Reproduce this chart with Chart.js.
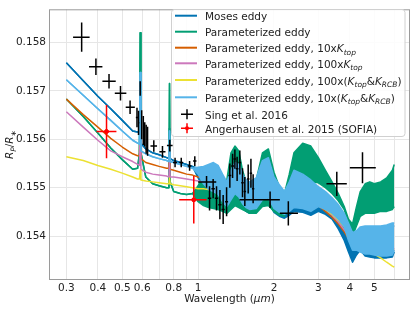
<!DOCTYPE html>
<html lang="en">
<head>
<meta charset="UTF-8">
<title>Transmission spectrum models vs data</title>
<style>
  body { margin: 0; background: #fff; }
  #wrap { width: 415px; height: 312px; position: relative; }
</style>
</head>
<body>
<div id="wrap"><canvas id="spectrum"></canvas></div>
<script src="https://cdn.jsdelivr.net/npm/chart.js"></script>
<script>
// wavelength grid (micron) shared by the model spectra
const wave = [0.30, 0.35, 0.40, 0.45, 0.50, 0.55, 0.575, 0.585, 0.589, 0.593,
  0.62, 0.66, 0.70, 0.75, 0.766, 0.770, 0.774, 0.80, 0.85, 0.90, 0.95,
  1.00, 1.05, 1.10, 1.15, 1.20, 1.25, 1.30, 1.35, 1.40, 1.45, 1.50, 1.55, 1.60, 1.70,
  1.80, 1.90, 2.00, 2.10, 2.20, 2.30, 2.40, 2.60, 2.80, 3.00, 3.20, 3.40, 3.60, 3.80,
  3.95, 4.10, 4.25, 4.40, 4.60, 4.80, 5.00, 5.30, 5.60, 5.90, 6.00];

// Moses eddy (upper / lower envelope of the noisy model)
const mosesHi = [0.15758, 0.15721, 0.15689, 0.15663, 0.15639, 0.15617, 0.15615, 0.15615, 0.15713, 0.15592,
  0.15580, 0.15572, 0.15568, 0.15562, 0.15560, 0.15623, 0.15560, 0.15556, 0.15552, 0.15548, 0.15544,
  0.15540, 0.15540, 0.15544, 0.15548, 0.15542, 0.15524, 0.15508, 0.15532, 0.15548, 0.15544, 0.15524, 0.15512, 0.15508, 0.15516,
  0.15552, 0.15558, 0.15518, 0.15502, 0.15488, 0.15508, 0.15532, 0.15524, 0.15512, 0.15498, 0.15488, 0.15475, 0.15459, 0.15439,
  0.15415, 0.15391, 0.15399, 0.15411, 0.15415, 0.15415, 0.15415, 0.15415, 0.15417, 0.15421, 0.15421];
const mosesLo = [0.15758, 0.15721, 0.15689, 0.15663, 0.15639, 0.15617, 0.15615, 0.15615, 0.15713, 0.15592,
  0.15580, 0.15572, 0.15568, 0.15562, 0.15560, 0.15623, 0.15560, 0.15556, 0.15552, 0.15548, 0.15544,
  0.15520, 0.15500, 0.15488, 0.15484, 0.15477, 0.15463, 0.15453, 0.15467, 0.15479, 0.15473, 0.15459, 0.15451, 0.15447, 0.15449,
  0.15467, 0.15471, 0.15449, 0.15441, 0.15437, 0.15443, 0.15451, 0.15449, 0.15443, 0.15451, 0.15445, 0.15435, 0.15415, 0.15391,
  0.15367, 0.15346, 0.15361, 0.15371, 0.15359, 0.15357, 0.15355, 0.15355, 0.15355, 0.15357, 0.15367];

// Parameterized eddy
const paramHi = [0.15683, 0.15647, 0.15613, 0.15582, 0.15558, 0.15538, 0.15540, 0.15572, 0.15820, 0.15572,
  0.15522, 0.15508, 0.15504, 0.15500, 0.15500, 0.15715, 0.15512, 0.15492, 0.15488, 0.15486, 0.15488,
  0.15504, 0.15528, 0.15546, 0.15546, 0.15532, 0.15508, 0.15516, 0.15572, 0.15586, 0.15576, 0.15536, 0.15512, 0.15508, 0.15516,
  0.15572, 0.15580, 0.15532, 0.15502, 0.15488, 0.15528, 0.15572, 0.15592, 0.15586, 0.15562, 0.15536, 0.15512, 0.15488, 0.15461,
  0.15435, 0.15425, 0.15461, 0.15492, 0.15508, 0.15512, 0.15508, 0.15512, 0.15520, 0.15536, 0.15548];
const paramLo = [0.15683, 0.15647, 0.15613, 0.15582, 0.15558, 0.15538, 0.15540, 0.15572, 0.15820, 0.15572,
  0.15522, 0.15508, 0.15504, 0.15500, 0.15500, 0.15715, 0.15512, 0.15492, 0.15488, 0.15486, 0.15488,
  0.15471, 0.15463, 0.15459, 0.15457, 0.15455, 0.15451, 0.15447, 0.15455, 0.15463, 0.15459, 0.15455, 0.15451, 0.15447, 0.15447,
  0.15461, 0.15463, 0.15451, 0.15443, 0.15441, 0.15492, 0.15528, 0.15520, 0.15512, 0.15510, 0.15500, 0.15488, 0.15473, 0.15455,
  0.15427, 0.15401, 0.15421, 0.15441, 0.15447, 0.15447, 0.15447, 0.15451, 0.15451, 0.15455, 0.15461];

// Parameterized eddy, 10x K_top
const ktop10 = [0.15683, 0.15651, 0.15625, 0.15602, 0.15584, 0.15570, 0.15566, 0.15566, 0.15653, 0.15560,
  0.15552, 0.15548, 0.15544, 0.15540, 0.15540, 0.15592, 0.15538, 0.15536, 0.15532, 0.15528, 0.15526,
  0.15522, 0.15520, 0.15520, 0.15520, 0.15516, 0.15508, 0.15504, 0.15512, 0.15520, 0.15516, 0.15506, 0.15500, 0.15496, 0.15496,
  0.15504, 0.15504, 0.15492, 0.15484, 0.15477, 0.15479, 0.15484, 0.15479, 0.15471, 0.15463, 0.15451, 0.15439, 0.15425, 0.15409,
  0.15395, 0.15385, 0.15391, 0.15383, 0.15375, 0.15371, 0.15371, 0.15369, 0.15371, 0.15371, 0.15371];

// Parameterized eddy, 100x K_top
const ktop100 = [0.15657, 0.15625, 0.15598, 0.15576, 0.15564, 0.15554, 0.15548, 0.15546, 0.15633, 0.15538,
  0.15532, 0.15528, 0.15526, 0.15524, 0.15522, 0.15562, 0.15522, 0.15522, 0.15520, 0.15518, 0.15516,
  0.15514, 0.15512, 0.15512, 0.15512, 0.15510, 0.15504, 0.15500, 0.15506, 0.15512, 0.15510, 0.15502, 0.15496, 0.15494, 0.15494,
  0.15500, 0.15500, 0.15490, 0.15481, 0.15475, 0.15477, 0.15481, 0.15477, 0.15471, 0.15465, 0.15455, 0.15443, 0.15429, 0.15413,
  0.15401, 0.15391, 0.15395, 0.15387, 0.15379, 0.15375, 0.15375, 0.15373, 0.15375, 0.15373, 0.15375];

// Parameterized eddy, 100x (K_top & K_RCB)
const both100 = [0.15564, 0.15556, 0.15546, 0.15538, 0.15530, 0.15522, 0.15518, 0.15518, 0.15536, 0.15516,
  0.15514, 0.15512, 0.15510, 0.15508, 0.15508, 0.15520, 0.15508, 0.15506, 0.15504, 0.15502, 0.15500,
  0.15498, 0.15498, 0.15496, 0.15496, 0.15494, 0.15492, 0.15490, 0.15492, 0.15494, 0.15492, 0.15490, 0.15488, 0.15486, 0.15486,
  0.15488, 0.15488, 0.15484, 0.15479, 0.15475, 0.15475, 0.15477, 0.15475, 0.15471, 0.15465, 0.15455, 0.15445, 0.15433, 0.15419,
  0.15407, 0.15399, 0.15395, 0.15387, 0.15379, 0.15371, 0.15363, 0.15355, 0.15346, 0.15338, 0.15336];

// Parameterized eddy, 10x (K_top & K_RCB)
const both10Hi = [0.15723, 0.15691, 0.15663, 0.15639, 0.15617, 0.15598, 0.15592, 0.15590, 0.15738, 0.15576,
  0.15570, 0.15564, 0.15560, 0.15556, 0.15554, 0.15617, 0.15554, 0.15552, 0.15548, 0.15544, 0.15540,
  0.15542, 0.15544, 0.15548, 0.15552, 0.15546, 0.15528, 0.15512, 0.15536, 0.15552, 0.15548, 0.15528, 0.15516, 0.15512, 0.15520,
  0.15556, 0.15562, 0.15522, 0.15506, 0.15492, 0.15512, 0.15536, 0.15528, 0.15516, 0.15502, 0.15492, 0.15479, 0.15465, 0.15447,
  0.15427, 0.15407, 0.15411, 0.15419, 0.15421, 0.15421, 0.15421, 0.15421, 0.15423, 0.15427, 0.15427];
const both10Lo = [0.15723, 0.15691, 0.15663, 0.15639, 0.15617, 0.15598, 0.15592, 0.15590, 0.15738, 0.15576,
  0.15570, 0.15564, 0.15560, 0.15556, 0.15554, 0.15617, 0.15554, 0.15552, 0.15548, 0.15544, 0.15540,
  0.15528, 0.15508, 0.15496, 0.15492, 0.15486, 0.15471, 0.15461, 0.15475, 0.15488, 0.15481, 0.15467, 0.15459, 0.15455, 0.15457,
  0.15475, 0.15479, 0.15457, 0.15449, 0.15445, 0.15451, 0.15459, 0.15457, 0.15451, 0.15461, 0.15455, 0.15447, 0.15435, 0.15419,
  0.15391, 0.15371, 0.15371, 0.15367, 0.15363, 0.15363, 0.15361, 0.15359, 0.15359, 0.15361, 0.15371];

// Sing et al. 2016: centre, bin edges, Rp/R*, 1-sigma
const singWave = [0.345, 0.393, 0.443, 0.492, 0.537, 0.572, 0.580, 0.589, 0.597, 0.606, 0.614, 0.622, 0.630,
  0.667, 0.722, 0.772, 0.810, 0.857, 0.925, 0.970, 1.08,
  1.110, 1.147, 1.183, 1.220, 1.257, 1.297, 1.336, 1.370, 1.399, 1.428, 1.464, 1.500, 1.532, 1.580, 1.620, 1.653,
  1.93, 2.28, 3.55, 4.49];
const singLo = [0.319, 0.369, 0.417, 0.467, 0.516, 0.566, 0.576, 0.586, 0.593, 0.602, 0.610, 0.618, 0.626,
  0.647, 0.702, 0.752, 0.795, 0.842, 0.910, 0.955, 1.00,
  1.092, 1.129, 1.165, 1.202, 1.239, 1.279, 1.318, 1.352, 1.381, 1.410, 1.446, 1.482, 1.514, 1.562, 1.602, 1.635,
  1.46, 2.11, 3.23, 4.00];
const singHi = [0.371, 0.417, 0.471, 0.519, 0.561, 0.578, 0.585, 0.592, 0.601, 0.610, 0.618, 0.626, 0.634,
  0.687, 0.742, 0.792, 0.825, 0.872, 0.940, 0.985, 1.18,
  1.128, 1.165, 1.201, 1.238, 1.275, 1.315, 1.354, 1.388, 1.417, 1.446, 1.482, 1.518, 1.550, 1.598, 1.638, 1.671,
  2.11, 2.49, 3.89, 5.07];
const singDepth = [0.15811, 0.15750, 0.15720, 0.15695, 0.15666, 0.15645, 0.15634, 0.15705, 0.15630, 0.15618, 0.15610, 0.15600, 0.15596,
  0.15586, 0.15574, 0.15587, 0.15552, 0.15552, 0.15545, 0.15555, 0.15512,
  0.15478, 0.15498, 0.15478, 0.15465, 0.15455, 0.15471, 0.15525, 0.15545, 0.15559, 0.15539, 0.15552, 0.15510, 0.15492, 0.15518, 0.15530, 0.15498,
  0.15475, 0.15447, 0.15508, 0.15541];
const singErr = [0.00030, 0.00017, 0.00015, 0.00015, 0.00014, 0.00020, 0.00025, 0.00015, 0.00030, 0.00030, 0.00025, 0.00030, 0.00030,
  0.00012, 0.00012, 0.00012, 0.00010, 0.00010, 0.00010, 0.00010, 0.00012,
  0.00025, 0.00020, 0.00025, 0.00030, 0.00030, 0.00030, 0.00025, 0.00025, 0.00020, 0.00025, 0.00025, 0.00030, 0.00030, 0.00030, 0.00030, 0.00030,
  0.00017, 0.00025, 0.00025, 0.00032];

// Angerhausen et al. 2015 (SOFIA)
const sofiaWave = [0.433, 0.961];
const sofiaLo = [0.395, 0.841];
const sofiaHi = [0.474, 1.08];
const sofiaDepth = [0.15616, 0.15475];
const sofiaErr = [0.00055, 0.00049];

const xTicks = [0.3, 0.4, 0.5, 0.6, 0.7, 0.8, 0.9, 1, 2, 3, 4, 5, 6];
const xTickLabels = ['0.3', '0.4', '0.5', '0.6', '', '0.8', '', '1', '2', '3', '4', '5', ''];
const yTicks = [0.154, 0.155, 0.156, 0.157, 0.158];

const FONT = "'DejaVu Sans', sans-serif";
Chart.defaults.font.family = FONT;
Chart.defaults.font.size = 10.5;
Chart.defaults.color = '#222';

const pts = (ys) => wave.map((w, i) => ({x: w, y: ys[i]}));

function line(label, color, ys, order) {
    return {label, data: pts(ys), borderColor: color, borderWidth: 1.5, pointRadius: 0,
        borderJoinStyle: 'round', fill: false, order};
}

function band(label, color, hi, lo, order) {
    const top = line(label, color, hi, order);
    const bottom = line(label + ' lower', color, lo, order);
    bottom.fill = '-1';
    bottom.backgroundColor = color;
    return [top, bottom];
}

const datasets = [
    ...band('Moses eddy', '#0173b2', mosesHi, mosesLo, 7),
    ...band('Parameterized eddy', '#029e73', paramHi, paramLo, 6),
    line('Parameterized eddy, 10xKtop', '#d55e00', ktop10, 5),
    line('Parameterized eddy, 100xKtop', '#cc78bc', ktop100, 4),
    line('Parameterized eddy, 100x(Ktop&KRCB)', '#ece133', both100, 3),
    ...band('Parameterized eddy, 10x(Ktop&KRCB)', '#56b4e9', both10Hi, both10Lo, 2),
    {label: 'Sing et al. 2016', data: singWave.map((w, i) => ({x: w, y: singDepth[i]})),
        showLine: false, pointRadius: 0, borderColor: '#000', order: 1},
    {label: 'Angerhausen et al. 2015 (SOFIA)', data: sofiaWave.map((w, i) => ({x: w, y: sofiaDepth[i]})),
        showLine: false, pointRadius: 2, pointBackgroundColor: '#ff0000', borderColor: '#ff0000', order: 0}
];

// frame + error bars, drawn through the chart scales
const errorBars = {
    id: 'errorBars',
    afterDatasetsDraw(chart) {
        const {ctx, chartArea: a, scales: {x, y}} = chart;
        ctx.save();
        ctx.strokeStyle = '#9a9a9a';
        ctx.lineWidth = 1;
        ctx.strokeRect(a.left + 0.5, a.top + 0.5, a.right - a.left - 1, a.bottom - a.top - 1);
        const groups = [
            [singWave, singLo, singHi, singDepth, singErr, '#000'],
            [sofiaWave, sofiaLo, sofiaHi, sofiaDepth, sofiaErr, '#ff0000']
        ];
        ctx.lineWidth = 1.5;
        groups.forEach(([w, lo, hi, d, e, col]) => {
            ctx.strokeStyle = col;
            ctx.fillStyle = col;
            w.forEach((c, i) => {
                const px = x.getPixelForValue(c), py = y.getPixelForValue(d[i]);
                ctx.beginPath();
                ctx.moveTo(x.getPixelForValue(lo[i]), py);
                ctx.lineTo(x.getPixelForValue(hi[i]), py);
                ctx.moveTo(px, y.getPixelForValue(d[i] - e[i]));
                ctx.lineTo(px, y.getPixelForValue(d[i] + e[i]));
                ctx.stroke();
                if (col !== '#000') {
                    ctx.beginPath();
                    ctx.arc(px, py, 2, 0, Math.PI * 2);
                    ctx.fill();
                }
            });
        });
        ctx.restore();
    }
};

// draws a run of [text, style] pieces; style n = normal, i = italic, s = italic subscript
function drawRich(ctx, parts, x, base) {
    parts.forEach(([t, s]) => {
        if (s === 's') {
            ctx.font = 'italic 7.5px ' + FONT;
            ctx.fillText(t, x, base + 2.5);
        } else {
            ctx.font = (s === 'i' ? 'italic ' : '') + '10.5px ' + FONT;
            ctx.fillText(t, x, base);
        }
        x += ctx.measureText(t).width;
    });
}

function richWidth(ctx, parts) {
    let w = 0;
    parts.forEach(([t, s]) => {
        ctx.font = s === 's' ? 'italic 7.5px ' + FONT : (s === 'i' ? 'italic ' : '') + '10.5px ' + FONT;
        w += ctx.measureText(t).width;
    });
    return w;
}

const legendRows = [
    {color: '#0173b2', y: 15.7, parts: [['Moses eddy', 'n']]},
    {color: '#029e73', y: 31.7, parts: [['Parameterized eddy', 'n']]},
    {color: '#d55e00', y: 47.7, parts: [['Parameterized eddy, 10x', 'n'], ['K', 'i'], ['top', 's']]},
    {color: '#cc78bc', y: 63.3, parts: [['Parameterized eddy, 100x', 'n'], ['K', 'i'], ['top', 's']]},
    {color: '#ece133', y: 80, parts: [['Parameterized eddy, 100x(', 'n'], ['K', 'i'], ['top', 's'], ['&', 'n'], ['K', 'i'], ['RCB', 's'], [')', 'n']]},
    {color: '#56b4e9', y: 97.3, parts: [['Parameterized eddy, 10x(', 'n'], ['K', 'i'], ['top', 's'], ['&', 'n'], ['K', 'i'], ['RCB', 's'], [')', 'n']]},
    {err: '#000', y: 114.3, parts: [['Sing et al. 2016', 'n']]},
    {err: '#ff0000', y: 128.3, parts: [['Angerhausen et al. 2015 (SOFIA)', 'n']]}
];

const decorations = {
    id: 'decorations',
    afterDraw(chart) {
        const {ctx, chartArea: a} = chart;
        ctx.save();
        ctx.fillStyle = '#222';
        ctx.textBaseline = 'alphabetic';
        // axis titles
        const xt = [['Wavelength (', 'n'], ['μm', 'i'], [')', 'n']];
        drawRich(ctx, xt, (a.left + a.right) / 2 - richWidth(ctx, xt) / 2, 301.5);
        const yt = [['R', 'i'], ['P', 's'], ['/', 'n'], ['R', 'i'], ['∗', 's']];
        ctx.translate(9.5, (a.top + a.bottom) / 2);
        ctx.rotate(-Math.PI / 2);
        drawRich(ctx, yt, -richWidth(ctx, yt) / 2, 3.8);
        ctx.setTransform(1, 0, 0, 1, 0, 0);
        // legend box
        ctx.beginPath();
        ctx.roundRect(171.5, 9.5, 233.5, 127, 3);
        ctx.fillStyle = 'rgba(255,255,255,0.85)';
        ctx.fill();
        ctx.strokeStyle = '#d0d0d0';
        ctx.lineWidth = 1;
        ctx.stroke();
        legendRows.forEach(r => {
            if (r.color) {
                ctx.strokeStyle = r.color;
                ctx.lineWidth = 2;
                ctx.beginPath();
                ctx.moveTo(175, r.y);
                ctx.lineTo(197, r.y);
                ctx.stroke();
            } else {
                ctx.strokeStyle = r.err;
                ctx.fillStyle = r.err;
                ctx.lineWidth = 1.5;
                ctx.beginPath();
                ctx.moveTo(181, r.y);
                ctx.lineTo(193, r.y);
                ctx.moveTo(187, r.y - 5);
                ctx.lineTo(187, r.y + 5);
                ctx.stroke();
                if (r.err !== '#000') {
                    ctx.beginPath();
                    ctx.arc(187, r.y, 2, 0, Math.PI * 2);
                    ctx.fill();
                }
            }
            ctx.fillStyle = '#222';
            drawRich(ctx, r.parts, 205, r.y + 4.5);
        });
        ctx.restore();
    }
};

new Chart(document.getElementById('spectrum'), {
    type: 'line',
    data: {datasets},
    plugins: [errorBars, decorations],
    options: {
        responsive: true,
        maintainAspectRatio: false,
        animation: false,
        layout: {padding: {top: 3, right: 5, left: 0, bottom: 0}},
        plugins: {legend: {display: false}, tooltip: {enabled: false}},
        scales: {
            x: {
                type: 'logarithmic',
                min: 0.256,
                max: 6.93,
                afterBuildTicks: s => { s.ticks = xTicks.map(v => ({value: v})); },
                afterFit: s => { s.height = 32; },
                ticks: {
                    autoSkip: false, maxRotation: 0, padding: 2,
                    callback: (v) => xTickLabels[xTicks.indexOf(v)] ?? ''
                },
                grid: {color: '#e6e6e6', drawTicks: false},
                border: {display: false}
            },
            y: {
                type: 'linear',
                min: 0.153093,
                max: 0.158685,
                afterBuildTicks: s => { s.ticks = yTicks.map(v => ({value: v})); },
                afterFit: s => { s.width = 49; },
                ticks: {padding: 3, callback: v => v.toFixed(3)},
                grid: {color: '#e6e6e6', drawTicks: false},
                border: {display: false}
            }
        }
    }
});
</script>
</body>
</html>
